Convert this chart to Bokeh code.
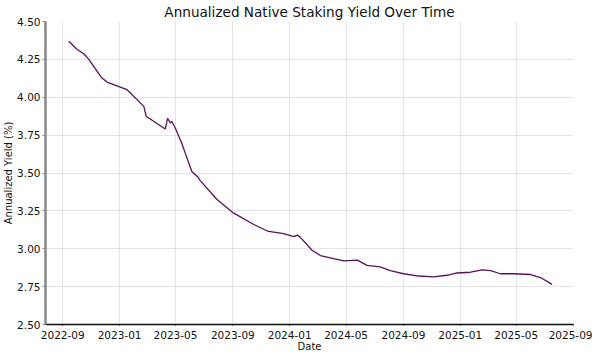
from datetime import datetime
from bokeh.plotting import figure
from bokeh.models import Range1d, FixedTicker, DatetimeTickFormatter, ColumnDataSource, NumeralTickFormatter, Title
from bokeh.embed import file_html
from bokeh.resources import INLINE

dates = ["2022-09-14", "2022-10-02", "2022-10-16", "2022-10-27", "2022-11-21", "2022-11-25",
         "2022-12-05", "2023-01-17", "2023-02-22", "2023-02-27", "2023-04-09", "2023-04-14",
         "2023-04-20", "2023-04-23", "2023-04-30", "2023-05-14", "2023-05-29", "2023-06-05",
         "2023-06-19", "2023-06-23", "2023-07-29", "2023-09-03", "2023-10-16", "2023-11-14",
         "2023-12-19", "2024-01-10", "2024-01-17", "2024-01-24", "2024-02-18", "2024-03-07",
         "2024-04-04", "2024-04-26", "2024-05-25", "2024-06-15", "2024-07-13", "2024-08-04",
         "2024-09-01", "2024-10-04", "2024-11-05", "2024-12-04", "2024-12-25", "2025-01-23",
         "2025-02-17", "2025-03-07", "2025-03-28", "2025-04-26", "2025-06-01", "2025-06-22",
         "2025-07-17"]
yields = [4.37, 4.315, 4.287, 4.25, 4.14, 4.125,
          4.10, 4.05, 3.94, 3.875, 3.79, 3.86,
          3.83, 3.84, 3.80, 3.70, 3.57, 3.51,
          3.47, 3.45, 3.325, 3.235, 3.16, 3.117,
          3.10, 3.08, 3.09, 3.075, 2.99, 2.955,
          2.935, 2.92, 2.925, 2.89, 2.88, 2.855,
          2.835, 2.82, 2.815, 2.825, 2.84, 2.845,
          2.86, 2.855, 2.835, 2.835, 2.83, 2.81,
          2.765]
tick_labels = ["2022-09", "2023-01", "2023-05", "2023-09", "2024-01",
               "2024-05", "2024-09", "2025-01", "2025-05", "2025-09"]
y_ticks = [2.50, 2.75, 3.00, 3.25, 3.50, 3.75, 4.00, 4.25, 4.50]

x = [datetime.strptime(d, "%Y-%m-%d") for d in dates]
src = ColumnDataSource(dict(x=x, y=yields))

def ms(s):
    return datetime.strptime(s, "%Y-%m-%d").timestamp() * 1000

FONT = "DejaVu Sans"
p = figure(frame_width=528, frame_height=303, output_backend="svg", toolbar_location=None,
           x_axis_type="datetime",
           x_range=Range1d(ms("2022-07-26"), ms("2025-09-01")),
           y_range=Range1d(2.5, 4.5),
           min_border_left=0, min_border_right=19, min_border_top=0, min_border_bottom=0)

p.line("x", "y", source=src, line_color="#5a105a", line_width=1.3)

main_title = Title(text="Annualized Native Staking Yield Over Time", align="center",
                   text_font=FONT, text_font_size="13.6px", text_font_style="normal",
                   text_color="#111111", standoff=3, offset=0)
p.add_layout(main_title, "above")

p.xaxis.ticker = FixedTicker(ticks=[ms(t + "-01") for t in tick_labels])
p.xaxis.formatter = DatetimeTickFormatter(days="%Y-%m", months="%Y-%m", years="%Y-%m")
p.yaxis.ticker = FixedTicker(ticks=y_ticks)
p.yaxis.formatter = NumeralTickFormatter(format="0.00")

p.xaxis.axis_label = "Date"
p.yaxis.axis_label = "Annualized Yield (%)"
for ax in (p.xaxis[0], p.yaxis[0]):
    ax.axis_label_text_font = FONT
    ax.axis_label_text_font_size = "10px"
    ax.axis_label_text_font_style = "normal"
    ax.axis_label_text_color = "#111111"
    ax.major_label_text_font = FONT
    ax.major_label_text_font_size = "10.5px"
    ax.major_label_text_color = "#111111"
    ax.minor_tick_line_color = None
    ax.major_tick_in = 0
p.yaxis.axis_label_standoff = 0
p.yaxis.major_tick_out = 3
p.yaxis.major_label_standoff = 2
p.xaxis.major_tick_out = 1
p.xaxis.major_label_standoff = 5
p.xaxis.axis_label_standoff = -1
p.yaxis.axis_line_color = "#888888"
p.yaxis.axis_line_width = 2.5
p.yaxis.major_tick_line_color = "#888888"
p.xaxis.axis_line_color = "#111111"
p.xaxis.axis_line_width = 1.5

p.grid.grid_line_color = "#c8c8c8"
p.grid.grid_line_dash = "1 1"
p.grid.grid_line_width = 1
p.outline_line_color = None

open("out.html", "w").write(file_html(p, INLINE))
